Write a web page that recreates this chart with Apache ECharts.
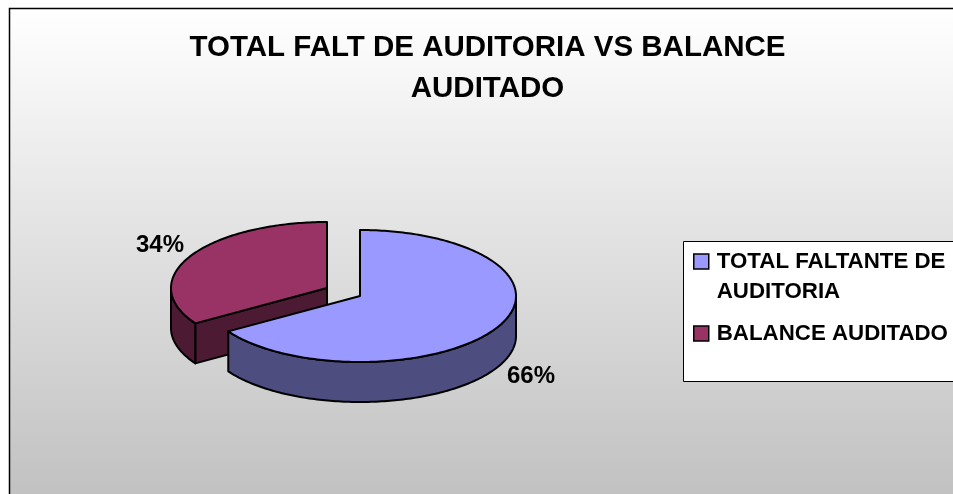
<!DOCTYPE html>
<html>
<head>
<meta charset="utf-8">
<style>
  html, body { margin: 0; padding: 0; background: #fff; }
  #chart { width: 953px; height: 494px; }
</style>
<script src="https://cdn.jsdelivr.net/npm/echarts@6/dist/echarts.min.js"></script>
</head>
<body>
<div id="chart"></div>
<script>
// values
var titleText = 'TOTAL FALT DE AUDITORIA VS BALANCE\nAUDITADO';
var sliceNames = ['TOTAL FALTANTE DE\nAUDITORIA', 'BALANCE AUDITADO'];
var sliceValues = [66, 34];

var topColors = ['#9999ff', '#993366'];
var sideColors = ['#4d4d80', '#4d1a33'];

// pie geometry
var centerX = [360, 327];
var centerY = [296, 288];
var labelX = [531, 160];
var labelY = [376, 245];
var radiusX = 156;
var radiusY = 66;
var depth = 40;
var font = '"Liberation Sans", Arial, sans-serif';

var total = sliceValues.reduce(function (a, b) { return a + b; }, 0);

function rim(i, deg, drop) {
    var r = deg * Math.PI / 180;
    return [centerX[i] + radiusX * Math.sin(r), centerY[i] - radiusY * Math.cos(r) + drop];
}

function arcPoints(i, from, to, drop) {
    var pts = [];
    for (var a = from; a < to; a += 1) {
        pts.push(rim(i, a, drop));
    }
    pts.push(rim(i, to, drop));
    return pts;
}

function face(points, fill) {
    return {
        type: 'polygon',
        shape: { points: points },
        style: { fill: fill, stroke: '#000', lineWidth: 2, lineJoin: 'round' }
    };
}

function renderSlice(params, api) {
    var i = params.seriesIndex;
    var start = 0;
    for (var k = 0; k < i; k++) {
        start += sliceValues[k] / total * 360;
    }
    var end = start + api.value(0) / total * 360;
    var children = [];
    var c = [centerX[i], centerY[i]];

    // the cut edges, only when they face the viewer
    if (Math.sin(start * Math.PI / 180) < -0.001) {
        var s = rim(i, start, 0);
        children.push(face([c, s, [s[0], s[1] + depth], [c[0], c[1] + depth]], sideColors[i]));
    }
    if (Math.sin(end * Math.PI / 180) > 0.001) {
        var e = rim(i, end, 0);
        children.push(face([c, e, [e[0], e[1] + depth], [c[0], c[1] + depth]], sideColors[i]));
    }

    // outer wall, front half only
    var wallFrom = Math.max(start, 90);
    var wallTo = Math.min(end, 270);
    if (wallFrom < wallTo) {
        var wall = arcPoints(i, wallFrom, wallTo, 0).concat(arcPoints(i, wallFrom, wallTo, depth).reverse());
        children.push(face(wall, sideColors[i]));
    }

    children.push(face([c].concat(arcPoints(i, start, end, 0)), topColors[i]));

    children.push({
        type: 'text',
        style: {
            text: Math.round(api.value(0) / total * 100) + '%',
            x: labelX[i],
            y: labelY[i],
            align: 'center',
            verticalAlign: 'middle',
            fill: '#000',
            font: 'bold 24px ' + font
        }
    });
    return { type: 'group', children: children };
}

var chart = echarts.init(document.getElementById('chart'), null, { renderer: 'canvas' });

chart.setOption({
    animation: false,
    title: {
        text: titleText,
        left: 482.5,
        top: 22,
        textAlign: 'center',
        textStyle: { fontFamily: font, fontWeight: 'bold', fontSize: 29.5, lineHeight: 41, color: '#000' }
    },
    graphic: [
        {
            type: 'rect',
            z: -10,
            shape: { x: 9.5, y: 8.5, width: 1000, height: 520 },
            style: {
                fill: new echarts.graphic.LinearGradient(0, 0, 0, 1, [
                    { offset: 0, color: '#ffffff' },
                    { offset: 1, color: '#bdbdbd' }
                ]),
                stroke: '#000',
                lineWidth: 1.5
            }
        },
        {
            type: 'rect',
            z: -5,
            shape: { x: 683.5, y: 241.5, width: 300, height: 140 },
            style: { fill: '#fff', stroke: '#000', lineWidth: 1 }
        }
    ],
    legend: {
        orient: 'vertical',
        left: 693,
        top: 216.5,
        padding: 0,
        itemGap: 12,
        itemWidth: 15,
        itemHeight: 15,
        icon: 'rect',
        selectedMode: false,
        data: sliceNames,
        itemStyle: { borderColor: '#000', borderWidth: 1.5 },
        // blank line on top keeps the swatch next to the first line of text
        formatter: function (name) {
            return name.indexOf('\n') >= 0 ? '\n' + name : name;
        },
        textStyle: { fontFamily: font, fontWeight: 'bold', fontSize: 22.3, lineHeight: 30, color: '#000', padding: [0, 0, 0, 3] }
    },
    series: sliceNames.map(function (name, i) {
        return {
            type: 'custom',
            name: name,
            coordinateSystem: 'none',
            z: 5 - i,
            silent: true,
            itemStyle: { color: topColors[i] },
            renderItem: renderSlice,
            data: [sliceValues[i]]
        };
    })
});
</script>
</body>
</html>
